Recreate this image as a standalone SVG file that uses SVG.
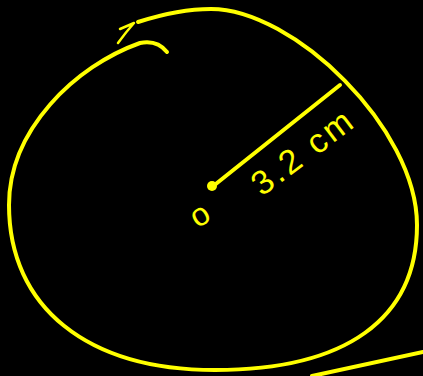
<svg xmlns="http://www.w3.org/2000/svg" width="423" height="376" viewBox="0 0 423 376">
<style>
.ink{fill:none;stroke:#ffff00;stroke-width:4;stroke-linecap:round;stroke-linejoin:round}
.thin{fill:none;stroke:#ffff00;stroke-width:2.5;stroke-linecap:round;stroke-linejoin:round}
.lbl{fill:#ffff00;font-family:"Liberation Sans",Arial,sans-serif}
</style>
<rect width="423" height="376" fill="#000"/>
<g id="circle">
<path class="ink" d="M138,22 C160,15 185,9 211,9 C293,9 417,128 417,225 C417,319 346,370 215,370 C87,370 9,307 9,205 C9,130 75,66 140,43 C155,40 163,47 167,52"/>
<path class="thin" d="M120,29 L134,23 Q126,32 118,43"/>
</g>
<g id="radius">
<path class="ink" d="M212,187 L340,85"/>
<circle cx="212" cy="186" r="5" fill="#ffff00"/>
</g>
<g id="labels">
<text class="lbl" font-size="34" letter-spacing="3" transform="translate(262,197) rotate(-37)">3.2 cm</text>
<text class="lbl" font-size="32" text-anchor="middle" transform="translate(205,224) rotate(-30)">o</text>
</g>
<g id="extra">
<path class="ink" d="M312,376 L423,352"/>
</g>
</svg>
